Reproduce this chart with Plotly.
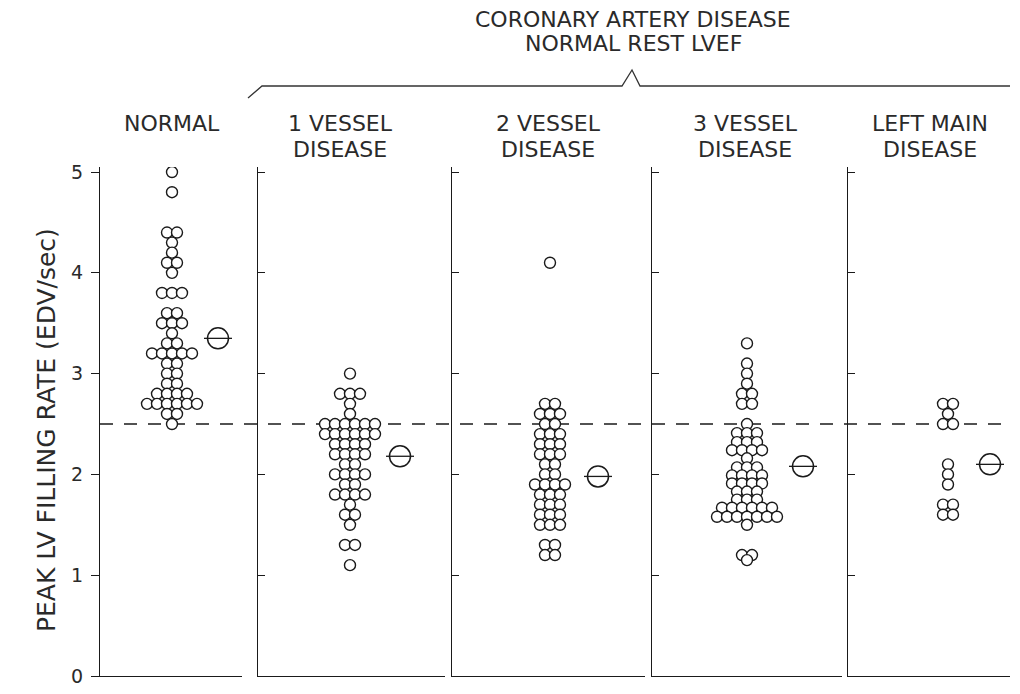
import plotly.graph_objects as go
from collections import Counter

# ---------------- data ----------------
group_labels = [["NORMAL"], ["1 VESSEL", "DISEASE"], ["2 VESSEL", "DISEASE"],
                ["3 VESSEL", "DISEASE"], ["LEFT MAIN", "DISEASE"]]
header_lines = ["CORONARY ARTERY DISEASE", "NORMAL REST LVEF"]
y_title = "PEAK LV FILLING RATE (EDV/sec)"

normal = [5.0, 4.8, 4.4, 4.4, 4.3, 4.2, 4.1, 4.1, 4.0, 3.8, 3.8, 3.8,
          3.6, 3.6, 3.5, 3.5, 3.5, 3.4, 3.3, 3.3, 3.2, 3.2, 3.2, 3.2, 3.2,
          3.1, 3.1, 3.0, 3.0, 2.9, 2.9, 2.8, 2.8, 2.8, 2.8,
          2.7, 2.7, 2.7, 2.7, 2.7, 2.7, 2.6, 2.6, 2.5]

vessel1 = [3.0, 2.8, 2.8, 2.8, 2.7, 2.6, 2.5, 2.5, 2.5, 2.5, 2.5, 2.5,
           2.4, 2.4, 2.4, 2.4, 2.4, 2.4, 2.3, 2.3, 2.3, 2.3,
           2.2, 2.2, 2.2, 2.2, 2.1, 2.1, 2.0, 2.0, 2.0, 2.0, 1.9, 1.9,
           1.8, 1.8, 1.8, 1.8, 1.7, 1.6, 1.6, 1.5, 1.3, 1.3, 1.1]

vessel2 = [4.1, 2.7, 2.7, 2.6, 2.6, 2.6, 2.5, 2.5, 2.4, 2.4, 2.4,
           2.3, 2.3, 2.3, 2.2, 2.2, 2.2, 2.1, 2.1, 2.0, 2.0,
           1.9, 1.9, 1.9, 1.9, 1.8, 1.8, 1.8, 1.7, 1.7, 1.7,
           1.6, 1.6, 1.6, 1.5, 1.5, 1.5, 1.3, 1.3, 1.2, 1.2]

vessel3 = [3.3, 3.1, 3.0, 2.9, 2.8, 2.8, 2.7, 2.7, 2.5,
           2.41, 2.41, 2.41, 2.32, 2.32, 2.32, 2.24, 2.24, 2.24, 2.24,
           2.16, 2.07, 2.07, 2.07, 1.99, 1.99, 1.99, 1.99,
           1.91, 1.91, 1.91, 1.91, 1.83, 1.83, 1.83, 1.75, 1.75, 1.75,
           1.67, 1.67, 1.67, 1.67, 1.67, 1.67,
           1.58, 1.58, 1.58, 1.58, 1.58, 1.58, 1.58, 1.5, 1.2, 1.2, 1.15]

left_main = [2.7, 2.7, 2.6, 2.5, 2.5, 2.1, 2.0, 1.9, 1.7, 1.7, 1.6, 1.6]

group_values = [normal, vessel1, vessel2, vessel3, left_main]
group_means = [3.35, 2.18, 1.98, 2.08, 2.10]

y_ticks = [0, 1, 2, 3, 4, 5]
cutoff = 2.5

# ---------------- layout (screen pixels of the target picture) ----------------
W, H = 1020, 694
OFF = 8                     # page body margin offset of the rendered figure
plot_left, plot_right, plot_top, plot_bottom = 100, 1010, 167, 676
ML = plot_left - OFF
MR = W - (plot_right - OFF)
MT = plot_top - OFF
MB = H - (plot_bottom - OFF)
panel_px = [(100, 242), (258, 445), (452, 645), (652, 842), (848, 1010)]
dot_center_px = [172, 350, 550, 747, 948]
mean_px = [218, 400, 598, 803, 990]
dot_step = 10
FONT = "DejaVu Sans, sans-serif"
INK = "#1a1a1a"
TEXT = "#2a2a2a"

PW = plot_right - plot_left
PH = plot_bottom - plot_top
def px2x(px):
    return (px - plot_left) / PW
def py2y(py):
    return (plot_bottom - py) / PH

fig = go.Figure()

for i, vals in enumerate(group_values):
    counts = Counter(vals)
    xs, ys = [], []
    for v, n in counts.items():
        for k in range(n):
            xs.append(dot_center_px[i] + (k - (n - 1) / 2) * dot_step)
            ys.append(v)
    ax = "" if i == 0 else str(i + 1)
    fig.add_trace(go.Scatter(
        x=xs, y=ys, mode="markers", xaxis="x" + ax, yaxis="y" + ax,
        marker=dict(symbol="circle", size=11, color="white",
                    line=dict(color=INK, width=1.4)),
        showlegend=False, hoverinfo="y"))
    # mean marker: circle with horizontal bar
    fig.add_trace(go.Scatter(
        x=[mean_px[i]], y=[group_means[i]], mode="markers",
        xaxis="x" + ax, yaxis="y" + ax,
        marker=dict(symbol="circle", size=21, color="white",
                    line=dict(color=INK, width=1.5)),
        showlegend=False, hoverinfo="y"))
    fig.add_trace(go.Scatter(
        x=[mean_px[i]], y=[group_means[i]], mode="markers",
        xaxis="x" + ax, yaxis="y" + ax,
        marker=dict(symbol="line-ew", size=20,
                    line=dict(color=INK, width=1.3)),
        showlegend=False, hoverinfo="skip"))

layout = dict(
    width=W, height=H,
    margin=dict(l=ML, r=MR, t=MT, b=MB, autoexpand=False),
    paper_bgcolor="white", plot_bgcolor="white",
    font=dict(family=FONT, color=TEXT, size=19),
    showlegend=False,
)
for i, (a, b) in enumerate(panel_px):
    ax = "" if i == 0 else str(i + 1)
    layout["xaxis" + ax] = dict(
        domain=[px2x(a), px2x(b)], range=[a, b], showgrid=False,
        zeroline=False, showticklabels=False, ticks="",
        showline=True, linecolor=INK, linewidth=1.4,
        anchor="y" + ax, fixedrange=True)
    ydict = dict(
        domain=[0, 1], range=[0, 5.05], showgrid=False, zeroline=False,
        showline=True, linecolor=INK, linewidth=1.4,
        anchor="x" + ax, tickvals=y_ticks, tickwidth=1.4,
        tickcolor=INK, fixedrange=True)
    if i == 0:
        ydict.update(ticks="outside", ticklen=8, showticklabels=True,
                     tickfont=dict(size=19), ticklabelstandoff=4)
    else:
        ydict.update(ticks="inside", ticklen=7, showticklabels=False,
                     matches="y")
    layout["yaxis" + ax] = ydict

fig.update_layout(**layout)

# dashed reference line at 2.5 across all panels
fig.add_shape(type="line", xref="paper", yref="y", x0=0, x1=1,
              y0=cutoff, y1=cutoff, layer="below",
              line=dict(color=INK, width=1.4, dash="13px,11px"))

# bracket over the CAD groups
bx = [248, 262, 622, 632, 640, 1010]
by = [98, 86, 86, 70, 86, 86]
path = "M " + " L ".join(f"{px2x(x):.5f},{py2y(y):.5f}" for x, y in zip(bx, by))
fig.add_shape(type="path", xref="paper", yref="paper", path=path,
              line=dict(color="#333333", width=1.3))

# group titles (one annotation per line)
title_x = [172, 340, 548, 745, 930]
line_y = [124, 149]
for lines, x in zip(group_labels, title_x):
    for j, txt in enumerate(lines):
        fig.add_annotation(text=txt, x=px2x(x), y=py2y(line_y[j]),
                           xref="paper", yref="paper", showarrow=False,
                           xanchor="center", yanchor="middle",
                           font=dict(size=22, family=FONT))

for j, txt in enumerate(header_lines):
    fig.add_annotation(text=txt, x=px2x(633), y=py2y([19, 43][j]),
                       xref="paper", yref="paper", showarrow=False,
                       xanchor="center", yanchor="middle",
                       font=dict(size=22, family=FONT))

fig.add_annotation(text=y_title, textangle=-90,
                   x=px2x(46), y=py2y(430), xref="paper", yref="paper",
                   showarrow=False, xanchor="center", yanchor="middle",
                   font=dict(size=25, family=FONT))

fig.write_html("out.html")
